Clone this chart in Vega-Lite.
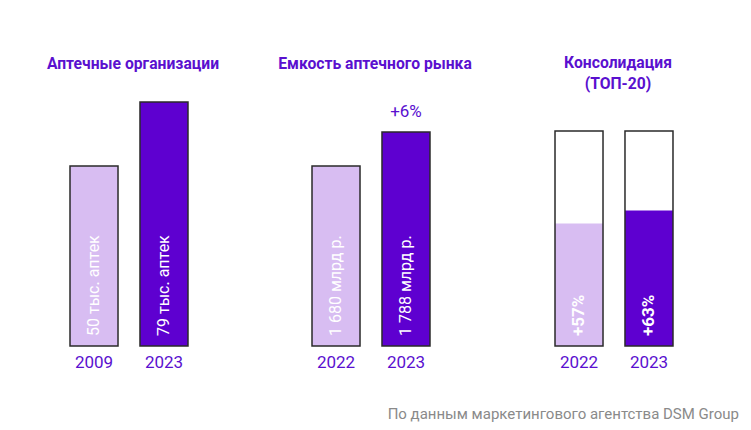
{
  "$schema": "https://vega.github.io/schema/vega-lite/v6.json",
  "background": "white",
  "padding": {"left": 29, "top": 55, "right": 0, "bottom": 0},
  "spacing": 42,
  "config": {
    "font": "Roboto",
    "view": {"stroke": null},
    "axisX": {"domain": false, "ticks": false, "labelAngle": 0, "labelFontSize": 17, "labelColor": "#5a10cf", "labelPadding": 8, "title": null, "grid": false},
    "title": {"color": "#5a10cf", "fontSize": 15.7, "fontWeight": "bold", "anchor": "middle"}
  },
  "title": {"text": "По данным маркетингового агентства DSM Group", "orient": "bottom", "anchor": "end", "color": "#8a8a8a", "fontSize": 15, "fontWeight": "normal", "offset": 37, "dx": 25},
  "resolve": {"scale": {"x": "independent", "y": "independent", "color": "independent"}},
  "hconcat": [
    {
      "width": 200,
      "height": 250,
      "title": {"text": "Аптечные организации", "offset": 23, "dx": 4},
      "data": {"values": [
        {"year": "2009", "value": 50, "tone": "light", "label": "50 тыс. аптек"},
        {"year": "2023", "value": 79, "tone": "dark", "label": "79 тыс. аптек"}
      ]},
      "encoding": {"x": {"field": "year", "type": "nominal", "scale": {"paddingInner": 0.314, "paddingOuter": 0.586}}},
      "layer": [
        {
          "mark": {"type": "bar", "stroke": "#2a2a2a", "strokeWidth": 1.5},
          "encoding": {
            "y": {"field": "value", "type": "quantitative", "scale": {"domain": [-31.6, 81.7], "nice": false, "zero": false}, "axis": null},
            "y2": {"datum": -31.6},
            "color": {"field": "tone", "type": "nominal", "scale": {"domain": ["light", "dark"], "range": ["#d8bdf2", "#5e00d0"]}, "legend": null}
          }
        },
        {
          "mark": {"type": "text", "angle": 270, "align": "left", "baseline": "middle", "dx": 10, "color": "white", "fontSize": 16},
          "encoding": {"y": {"datum": -31.6}, "text": {"field": "label"}}
        }
      ]
    },
    {
      "width": 200,
      "height": 250,
      "title": {"text": "Емкость аптечного рынка", "offset": 23, "dx": 4},
      "data": {"values": [
        {"year": "2022", "value": 1680, "tone": "light", "label": "1 680 млрд р.", "note": ""},
        {"year": "2023", "value": 1788, "tone": "dark", "label": "1 788 млрд р.", "note": "+6%"}
      ]},
      "encoding": {"x": {"field": "year", "type": "nominal", "scale": {"paddingInner": 0.314, "paddingOuter": 0.586}}},
      "layer": [
        {
          "mark": {"type": "bar", "stroke": "#2a2a2a", "strokeWidth": 1.5},
          "encoding": {
            "y": {"field": "value", "type": "quantitative", "scale": {"domain": [1108, 1902], "nice": false, "zero": false}, "axis": null},
            "y2": {"datum": 1108},
            "color": {"field": "tone", "type": "nominal", "scale": {"domain": ["light", "dark"], "range": ["#d8bdf2", "#5e00d0"]}, "legend": null}
          }
        },
        {
          "mark": {"type": "text", "angle": 270, "align": "left", "baseline": "middle", "dx": 10, "color": "white", "fontSize": 16},
          "encoding": {"y": {"datum": 1108}, "text": {"field": "label"}}
        },
        {
          "mark": {"type": "text", "baseline": "middle", "dy": -20, "color": "#5a10cf", "fontSize": 17},
          "encoding": {"y": {"field": "value", "type": "quantitative"}, "text": {"field": "note"}}
        }
      ]
    },
    {
      "width": 200,
      "height": 250,
      "title": {"text": ["Консолидация", "(ТОП-20)"], "offset": 3, "dx": 4, "lineHeight": 21},
      "data": {"values": [
        {"year": "2022", "share": 57, "total": 100, "tone": "light", "label": "+57%"},
        {"year": "2023", "share": 63, "total": 100, "tone": "dark", "label": "+63%"}
      ]},
      "encoding": {"x": {"field": "year", "type": "nominal", "scale": {"paddingInner": 0.314, "paddingOuter": 0.586}}},
      "layer": [
        {
          "mark": {"type": "bar"},
          "encoding": {
            "y": {"field": "share", "type": "quantitative", "scale": {"domain": [0, 116.3], "nice": false}, "axis": null},
            "color": {"field": "tone", "type": "nominal", "scale": {"domain": ["light", "dark"], "range": ["#d8bdf2", "#5e00d0"]}, "legend": null}
          }
        },
        {
          "mark": {"type": "bar", "fill": "white", "fillOpacity": 0, "stroke": "#2a2a2a", "strokeWidth": 1.5},
          "encoding": {"y": {"field": "total", "type": "quantitative"}}
        },
        {
          "mark": {"type": "text", "angle": 270, "align": "left", "baseline": "middle", "dx": 10, "color": "white", "fontSize": 17, "fontWeight": "bold"},
          "encoding": {"y": {"datum": 0}, "text": {"field": "label"}}
        }
      ]
    }
  ]
}
